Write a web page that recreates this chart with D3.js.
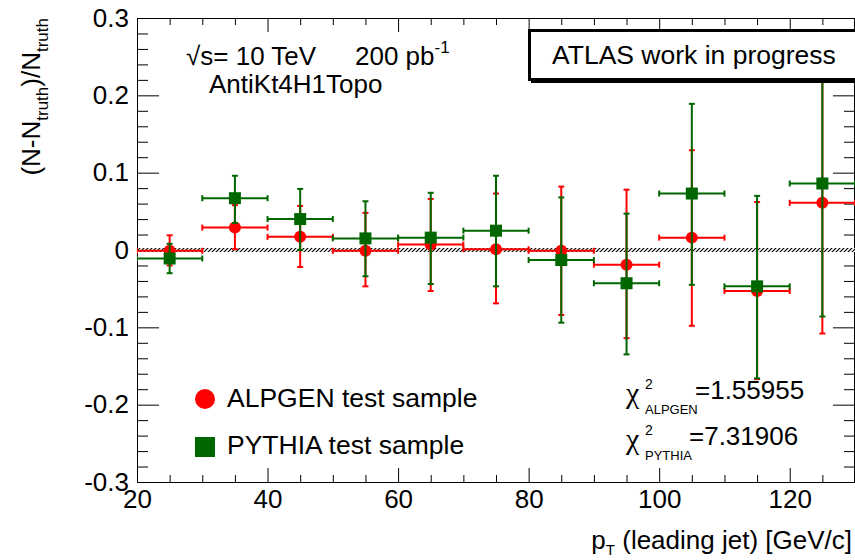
<!DOCTYPE html>
<html>
<head>
<meta charset="UTF-8">
<title>pt_leading_jet_ratio</title>
<script type="text/javascript" src="https://cdn.jsdelivr.net/npm/d3@7"></script>
<style type="text/css">
	body { margin: 0; background: #fff; }
	text { font-family: "Liberation Sans", Arial, sans-serif; fill: #000; }
	.axis text { font-size: 26px; }
	.axis line { stroke: #000; stroke-width: 1; }
	.axis path { display: none; }
	.chi { font-family: "Liberation Serif", "DejaVu Serif", serif; }
</style>
</head>
<body>
<div id="div_main"></div>

<script type="text/javascript">

	// bins in pT (leading jet), bin width 10 GeV/c
	var binCenters = [25, 35, 45, 55, 65, 75, 85, 95, 105, 115, 125];
	var binHalfWidth = 5;

	// ALPGEN test sample: value, upper and lower end of error bar
	var alpgenVal = [-0.001, 0.029, 0.017, -0.001, 0.007, 0.001, -0.001, -0.019, 0.016, -0.053, 0.061];
	var alpgenHi  = [0.019, 0.058, 0.057, 0.048, 0.066, 0.073, 0.082, 0.078, 0.129, 0.062, 0.24];
	var alpgenLo  = [-0.020, 0.001, -0.022, -0.047, -0.053, -0.069, -0.084, -0.114, -0.098, -0.167, -0.108];

	// PYTHIA test sample
	var pythiaVal = [-0.011, 0.067, 0.040, 0.015, 0.016, 0.025, -0.013, -0.043, 0.073, -0.047, 0.086];
	var pythiaHi  = [0.008, 0.096, 0.079, 0.063, 0.074, 0.096, 0.068, 0.047, 0.189, 0.070, 0.27];
	var pythiaLo  = [-0.030, 0.035, 0.000, -0.034, -0.044, -0.047, -0.094, -0.135, -0.045, -0.166, -0.086];

	var xMajorTicks = [20, 40, 60, 80, 100, 120];
	var yMajorTicks = [-0.3, -0.2, -0.1, 0, 0.1, 0.2, 0.3];
	var yTickLabels = ["-0.3", "-0.2", "-0.1", "0", "0.1", "0.2", "0.3"];

	var chi2Alpgen = "1.55955";
	var chi2Pythia = "7.31906";

	var svg_w = 855, svg_h = 560;
	var padL = 137, padR = 855, padT = 18, padB = 482;

	var scaleX = d3.scaleLinear().domain([20, 130]).range([padL, padR]);
	var scaleY = d3.scaleLinear().domain([-0.3, 0.3]).range([padB, padT]);

	var svg = d3.select("#div_main")
		.append("svg")
			.attr("width", svg_w)
			.attr("height", svg_h);

	// hatch for the zero band
	var defs = svg.append("defs");
	var pat = defs.append("pattern")
		.attr("id", "hatch")
		.attr("patternUnits", "userSpaceOnUse")
		.attr("width", 4).attr("height", 4);
	pat.append("rect").attr("width", 4).attr("height", 4).attr("fill", "#fff");
	pat.append("path").attr("d", "M-1,1 l2,-2 M0,4 l4,-4 M3,5 l2,-2")
		.attr("stroke", "#000").attr("stroke-width", 1.2);

	defs.append("clipPath").attr("id", "plotclip")
		.append("rect")
			.attr("x", padL).attr("y", padT)
			.attr("width", padR - padL).attr("height", padB - padT);

	// minor ticks
	var xMinor = d3.range(20, 131, 5).filter(function (d) { return d % 20 != 0; });
	var yMinor = d3.range(-30, 31, 2).filter(function (d) { return d % 10 != 0; }).map(function (d) { return d / 100; });

	// x axes
	svg.append("g").attr("class", "axis")
		.attr("transform", "translate(0," + padB + ")")
		.call(d3.axisBottom(scaleX).tickValues(xMajorTicks).tickSizeInner(-14).tickSizeOuter(0).tickPadding(8).tickFormat(d3.format("d")));
	svg.append("g").attr("class", "axis")
		.attr("transform", "translate(0," + padB + ")")
		.call(d3.axisBottom(scaleX).tickValues(xMinor).tickSizeInner(-7).tickSizeOuter(0).tickFormat(""));
	svg.append("g").attr("class", "axis")
		.attr("transform", "translate(0," + padT + ")")
		.call(d3.axisTop(scaleX).tickValues(xMajorTicks).tickSizeInner(-14).tickSizeOuter(0).tickFormat(""));
	svg.append("g").attr("class", "axis")
		.attr("transform", "translate(0," + padT + ")")
		.call(d3.axisTop(scaleX).tickValues(xMinor).tickSizeInner(-7).tickSizeOuter(0).tickFormat(""));

	// y axes
	svg.append("g").attr("class", "axis")
		.attr("transform", "translate(" + padL + ",0)")
		.call(d3.axisLeft(scaleY).tickValues(yMajorTicks).tickSizeInner(-22).tickSizeOuter(0).tickPadding(8)
			.tickFormat(function (d, i) { return yTickLabels[i]; }));
	svg.append("g").attr("class", "axis")
		.attr("transform", "translate(" + padL + ",0)")
		.call(d3.axisLeft(scaleY).tickValues(yMinor).tickSizeInner(-11).tickSizeOuter(0).tickFormat(""));
	svg.append("g").attr("class", "axis")
		.attr("transform", "translate(" + padR + ",0)")
		.call(d3.axisRight(scaleY).tickValues(yMajorTicks).tickSizeInner(-22).tickSizeOuter(0).tickFormat(""));
	svg.append("g").attr("class", "axis")
		.attr("transform", "translate(" + padR + ",0)")
		.call(d3.axisRight(scaleY).tickValues(yMinor).tickSizeInner(-11).tickSizeOuter(0).tickFormat(""));

	// frame
	svg.append("rect")
		.attr("x", padL + 0.5).attr("y", padT + 0.5)
		.attr("width", padR - padL - 1).attr("height", padB - padT)
		.attr("fill", "none").attr("stroke", "#000").attr("stroke-width", 1);

	var plot = svg.append("g").attr("clip-path", "url(#plotclip)");

	// zero band
	plot.append("rect")
		.attr("x", padL).attr("y", scaleY(0) - 2)
		.attr("width", padR - padL).attr("height", 4)
		.attr("fill", "url(#hatch)");

	function drawSeries(vals, his, los, color, shape) {
		var g = plot.append("g");
		var cap = 3;
		binCenters.forEach(function (c, i) {
			var x0 = scaleX(c - binHalfWidth), x1 = scaleX(c + binHalfWidth), xc = scaleX(c);
			var yv = scaleY(vals[i]), yh = scaleY(his[i]), yl = scaleY(los[i]);
			var segs = [
				[x0, yv, x1, yv], [xc, yh, xc, yl],
				[x0, yv - cap, x0, yv + cap], [x1, yv - cap, x1, yv + cap],
				[xc - cap, yh, xc + cap, yh], [xc - cap, yl, xc + cap, yl]
			];
			segs.forEach(function (s) {
				g.append("line")
					.attr("x1", s[0]).attr("y1", s[1]).attr("x2", s[2]).attr("y2", s[3])
					.attr("stroke", color).attr("stroke-width", 2);
			});
		});
		if (shape == "circle") {
			g.selectAll("circle").data(vals).enter().append("circle")
				.attr("cx", function (d, i) { return scaleX(binCenters[i]); })
				.attr("cy", function (d) { return scaleY(d); })
				.attr("r", 6).attr("fill", color);
		} else {
			g.selectAll("rect").data(vals).enter().append("rect")
				.attr("x", function (d, i) { return scaleX(binCenters[i]) - 6; })
				.attr("y", function (d) { return scaleY(d) - 6; })
				.attr("width", 12).attr("height", 12).attr("fill", color);
		}
	}

	drawSeries(alpgenVal, alpgenHi, alpgenLo, "#ff0000", "circle");
	drawSeries(pythiaVal, pythiaHi, pythiaLo, "#006600", "square");

	// ATLAS box
	svg.append("rect")
		.attr("x", 531).attr("y", 33).attr("width", 340).attr("height", 50)
		.attr("fill", "#000");
	svg.append("rect")
		.attr("x", 529.5).attr("y", 30.5).attr("width", 340).attr("height", 49)
		.attr("fill", "#fff").attr("stroke", "#000").attr("stroke-width", 3);
	svg.append("text").attr("x", 552).attr("y", 64).style("font-size", "26.5px")
		.text("ATLAS work in progress");

	// energy / lumi / algorithm labels
	var t1 = svg.append("text").attr("x", 186).attr("y", 65).style("font-size", "26px");
	t1.append("tspan").text("\u221As= 10 TeV");
	t1.append("tspan").attr("x", 355).text("200 pb");
	t1.append("tspan").attr("dy", -12).style("font-size", "17px").text("-1");
	svg.append("text").attr("x", 209).attr("y", 93).style("font-size", "26px").text("AntiKt4H1Topo");

	// legend
	svg.append("circle").attr("cx", 205).attr("cy", 399).attr("r", 10).attr("fill", "#ff0000");
	svg.append("rect").attr("x", 195).attr("y", 437).attr("width", 20).attr("height", 20).attr("fill", "#006600");
	svg.append("text").attr("x", 227).attr("y", 407).style("font-size", "26.5px").text("ALPGEN test sample");
	svg.append("text").attr("x", 227).attr("y", 454).style("font-size", "26.5px").text("PYTHIA test sample");

	// chi2 values
	function chi2Text(y, label, value, xv) {
		svg.append("text").attr("class", "chi").attr("x", 626).attr("y", y).style("font-size", "30px").text("\u03c7");
		svg.append("text").attr("x", 645).attr("y", y - 14).style("font-size", "14px").text("2");
		svg.append("text").attr("x", 645).attr("y", y + 11).style("font-size", "13px").text(label);
		svg.append("text").attr("x", xv).attr("y", y - 4).style("font-size", "26px").text("=" + value);
	}
	chi2Text(403, "ALPGEN", chi2Alpgen, 695);
	chi2Text(449, "PYTHIA", chi2Pythia, 689);

	// axis titles
	var xt = svg.append("text").attr("x", 852).attr("y", 549)
		.attr("text-anchor", "end").style("font-size", "26px");
	xt.append("tspan").text("p");
	xt.append("tspan").attr("dy", 6).style("font-size", "15px").text("T");
	xt.append("tspan").attr("dy", -6).text(" (leading jet) [GeV/c]");

	var yt = svg.append("text")
		.attr("transform", "translate(40," + padT + ") rotate(-90)")
		.attr("text-anchor", "end").style("font-size", "26px");
	yt.append("tspan").text("(N-N");
	yt.append("tspan").attr("dy", 8).style("font-size", "17px").text("truth");
	yt.append("tspan").attr("dy", -8).text(")/N");
	yt.append("tspan").attr("dy", 8).style("font-size", "17px").text("truth");

</script>
</body>
</html>
